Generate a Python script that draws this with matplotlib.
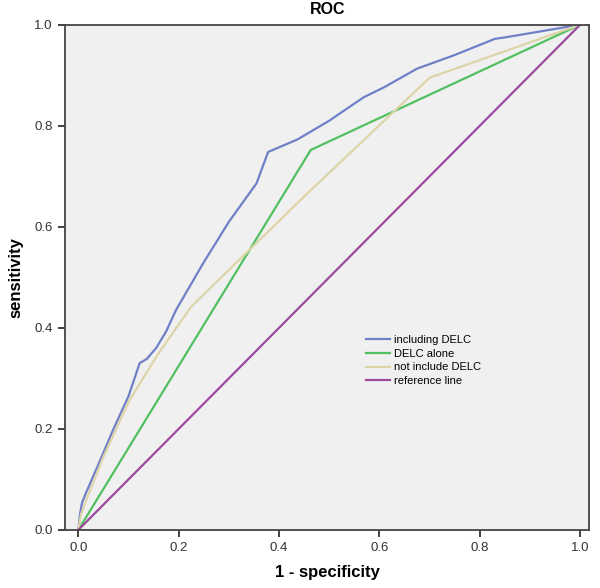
import matplotlib
matplotlib.use('Agg')
import matplotlib.pyplot as plt

plt.rcParams['font.family'] = ['Liberation Sans', 'DejaVu Sans']

# ROC curves
incl_x = [0.0, 0.003, 0.007, 0.015, 0.04, 0.07, 0.10, 0.122, 0.136, 0.155, 0.175, 0.185, 0.195,
          0.25, 0.30, 0.355, 0.378, 0.437, 0.50, 0.568, 0.609, 0.675, 0.75, 0.83, 0.851, 1.0]
incl_y = [0.0, 0.03, 0.053, 0.073, 0.13, 0.20, 0.265, 0.33, 0.338, 0.36, 0.393, 0.415, 0.436,
          0.53, 0.61, 0.686, 0.748, 0.773, 0.81, 0.856, 0.876, 0.913, 0.94, 0.972, 0.975, 1.0]

alone_x = [0.0, 0.463, 1.0]
alone_y = [0.0, 0.752, 1.0]

notincl_x = [0.0, 0.005, 0.02, 0.05, 0.102, 0.16, 0.225, 0.45, 0.70, 1.0]
notincl_y = [0.0, 0.03, 0.07, 0.145, 0.257, 0.35, 0.442, 0.66, 0.895, 1.0]

ref_x = [0.0, 1.0]
ref_y = [0.0, 1.0]

ticks = [0.0, 0.2, 0.4, 0.6, 0.8, 1.0]
tick_labels = ['0.0', '0.2', '0.4', '0.6', '0.8', '1.0']

fig = plt.figure(figsize=(6, 5.88), dpi=100)
ax = fig.add_axes([0.109, 0.099, 0.873, 0.859])
ax.set_facecolor('#f0f0f0')

ax.plot(incl_x, incl_y, color='#6f80c6', lw=1.6, label='including DELC')
ax.plot(alone_x, alone_y, color='#52c060', lw=1.6, label='DELC alone')
ax.plot(notincl_x, notincl_y, color='#ddd4a8', lw=1.6, label='not include DELC')
ax.plot(ref_x, ref_y, color='#9b4a9e', lw=1.6, label='reference line')

ax.set_xlim(-0.026, 1.018)
ax.set_ylim(0, 1.0)
ax.set_xticks(ticks)
ax.set_yticks(ticks)
ax.set_xticklabels(tick_labels)
ax.set_yticklabels(tick_labels)
ax.tick_params(direction='out', length=5, width=1.3, labelsize=9.5, colors='#333333', pad=4)
for s in ax.spines.values():
    s.set_color('#444444')
    s.set_linewidth(1.3)

ax.set_title('ROC', fontsize=11.5, fontweight='bold', pad=8)
ax.set_xlabel('1 - specificity', fontsize=12, fontweight='bold', labelpad=8)
ax.set_ylabel('sensitivity', fontsize=12, fontweight='bold', labelpad=8)

ax.legend(loc='upper left', bbox_to_anchor=(0.565, 0.395), frameon=False, fontsize=8,
          handlelength=2.2, handletextpad=0.3, labelspacing=0.35, borderaxespad=0)

fig.savefig('out.png', dpi=100)
